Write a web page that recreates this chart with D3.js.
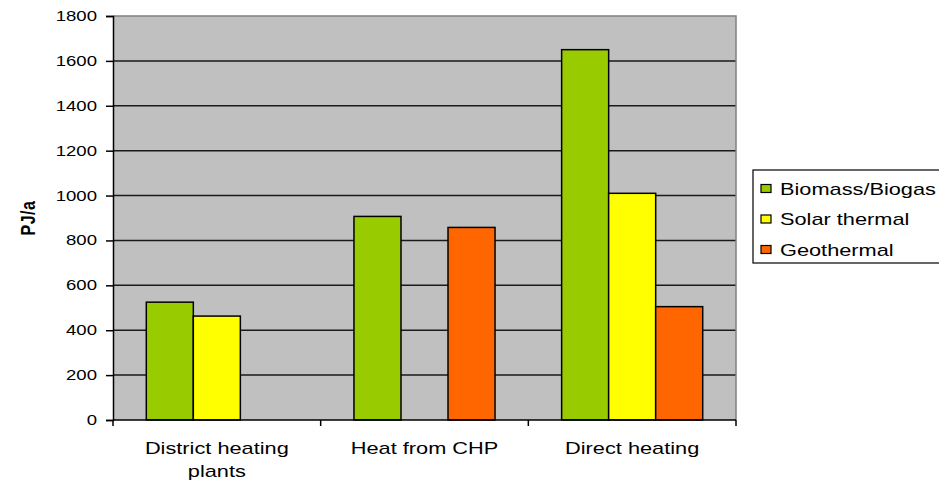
<!DOCTYPE html>
<html><head><meta charset="utf-8">
<script src="https://cdn.jsdelivr.net/npm/d3@7"></script>
<style>body{margin:0;background:#fff}svg{display:block;font-family:"Liberation Sans",Arial,sans-serif}</style>
</head><body><svg id="c" width="939" height="482"></svg>
<script>
const categories = [["District heating","plants"],["Heat from CHP"],["Direct heating"]];
const seriesNames = ["Biomass/Biogas","Solar thermal","Geothermal"];
const seriesColors = ["#99cc00","#ffff00","#ff6600"];
const biomass = [525, 907, 1650];
const solar = [463, null, 1010];
const geothermal = [null, 858, 505];
const yTicks = [0,200,400,600,800,1000,1200,1400,1600,1800];

const series = [biomass, solar, geothermal];
const SX = 1.28; // horizontal text stretch
const svg = d3.select("#c");
const L=113, R=736, T=16, B=420;
const x = d3.scaleBand().domain(d3.range(categories.length)).range([L,R]);
const pad = 33.3;
const xi = d3.scaleBand().domain(d3.range(series.length)).range([pad,x.bandwidth()-pad]);
const y = d3.scaleLinear().domain([0,1800]).range([B,T]);

function stext(parent, tx, ty, str, size, anchor, weight){
  const g = parent.append("g").attr("transform",`translate(${tx},${ty}) scale(${SX},1)`);
  g.append("text").attr("text-anchor",anchor||"start").attr("font-size",size).attr("font-weight",weight||"normal").attr("fill","#000").text(str);
  return g;
}

svg.append("rect").attr("x",L).attr("y",T).attr("width",R-L).attr("height",B-T).attr("fill","#c0c0c0");
svg.append("g").selectAll("line").data(yTicks.filter(d=>d>0&&d<1800)).join("line")
 .attr("x1",L).attr("x2",R).attr("y1",d=>y(d)).attr("y2",d=>y(d)).attr("stroke","#1a1a1a").attr("stroke-width",1.5);
svg.append("path").attr("d",`M${L},${T}H${R}V${B}`).attr("fill","none").attr("stroke","#808080").attr("stroke-width",1.5);

series.forEach((s,si)=>{
  svg.append("g").selectAll("rect").data(s.map((v,i)=>({v,i})).filter(d=>d.v!=null)).join("rect")
   .attr("x",d=>x(d.i)+xi(si)).attr("width",xi.bandwidth())
   .attr("y",d=>y(d.v)).attr("height",d=>B-y(d.v))
   .attr("fill",seriesColors[si]).attr("stroke","#000").attr("stroke-width",1.5);
});

const ya = svg.append("g").attr("transform",`translate(${L},0)`)
 .call(d3.axisLeft(y).tickValues(yTicks).tickSize(7).tickFormat(""));
ya.select(".domain").attr("stroke","#000").attr("stroke-width",1.5);
ya.selectAll(".tick line").attr("stroke","#000").attr("stroke-width",1.5);
const yl = svg.append("g");
yTicks.forEach(t=> stext(yl, 97, y(t)+5, d3.format("d")(t), 14.5, "end"));

svg.append("line").attr("x1",L).attr("x2",R).attr("y1",B).attr("y2",B).attr("stroke","#000").attr("stroke-width",1.5);
const bounds = d3.range(categories.length).map(i=>x(i)).concat([R]);
svg.append("g").selectAll("line").data(bounds).join("line")
 .attr("x1",d=>d).attr("x2",d=>d).attr("y1",B).attr("y2",B+6).attr("stroke","#000").attr("stroke-width",1.5);
const xl = svg.append("g");
categories.forEach((c,i)=> c.forEach((s,k)=> stext(xl, x(i)+x.bandwidth()/2, 454+k*22.5, s, 17, "middle")));

svg.append("g").attr("transform",`translate(35,218) scale(${SX},1) rotate(-90)`)
 .append("text").attr("text-anchor","middle").attr("font-size",16).attr("font-weight","bold").attr("letter-spacing",0.5).text("PJ/a");

const lg = svg.append("g");
lg.append("rect").attr("x",753).attr("y",170).attr("width",200).attr("height",93).attr("fill","#fff").attr("stroke","#000").attr("stroke-width",1.2);
seriesNames.forEach((n,i)=>{
  const base = 194.5 + i*30.5;
  lg.append("rect").attr("x",761).attr("y",base-10).attr("width",10).attr("height",8).attr("fill",seriesColors[i]).attr("stroke","#000").attr("stroke-width",1.2);
  stext(lg, 780, base, n, 17, "start");
});
</script></body></html>
